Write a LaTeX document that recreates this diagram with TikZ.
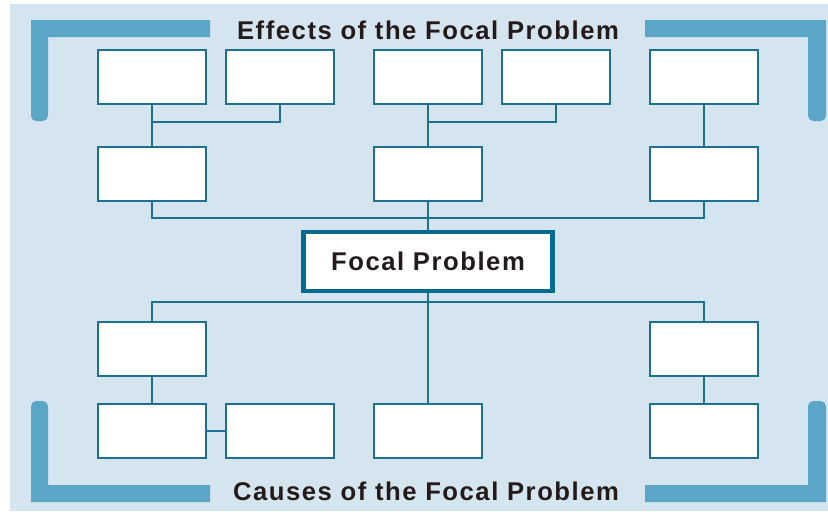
\documentclass[tikz,border=0pt]{standalone}
\usepackage{fontspec}
\newfontfamily\headfont[LetterSpace=6]{Liberation Sans}
\usetikzlibrary{positioning}
\definecolor{bgblue}{HTML}{D5E5F0}
\definecolor{barblue}{HTML}{5BA5C6}
\definecolor{lineblue}{HTML}{1F6F90}
\definecolor{focalblue}{HTML}{006B8F}
\definecolor{inkdark}{HTML}{231A1A}
\tikzset{
  cell/.style={draw=lineblue,fill=white,line width=0.85pt,minimum width=2.16cm,minimum height=1.08cm,inner sep=0pt},
  link/.style={draw=lineblue,line width=0.85pt},
  heading/.style={text=inkdark,font=\headfont\bfseries\fontsize{14.6}{17}\selectfont},
  bar/.style={fill=barblue}
}

\begin{document}
\begin{tikzpicture}[x=0.02cm,y=-0.02cm]
		\useasboundingbox (0,0) rectangle (828,511);
		\fill[bgblue] (10,4) rectangle (828,511);
		% corner brackets
		\fill[bar,rounded corners=3pt] (48,112) -- (48,121) -- (31,121) -- (31,100) [sharp corners] -- (31,20) -- (210,20) -- (210,37) -- (48,37) -- cycle;
		\fill[bar,rounded corners=3pt] (808,112) -- (808,121) -- (826,121) -- (826,100) [sharp corners] -- (826,20) -- (645,20) -- (645,37) -- (808,37) -- cycle;
		\fill[bar,rounded corners=3pt] (48,410) -- (48,401) -- (31,401) -- (31,420) [sharp corners] -- (31,502) -- (210,502) -- (210,485) -- (48,485) -- cycle;
		\fill[bar,rounded corners=3pt] (808,410) -- (808,401) -- (826,401) -- (826,420) [sharp corners] -- (826,502) -- (645,502) -- (645,485) -- (808,485) -- cycle;
		\node[heading] (effects) at (428,30) {Effects of the Focal Problem};
		\node[heading] (causes) at (426,491) {Causes of the Focal Problem};
		% boxes
		\node[cell] (e1) at (152,77) {};
		\node[cell] (e2) at (280,77) {};
		\node[cell] (e3) at (428,77) {};
		\node[cell] (e4) at (556,77) {};
		\node[cell] (e5) at (704,77) {};
		\node[cell] (m1) at (152,174) {};
		\node[cell] (m2) at (428,174) {};
		\node[cell] (m3) at (704,174) {};
		\node[draw=focalblue,fill=white,line width=2.8pt,minimum width=4.98cm,minimum height=1.18cm,inner sep=0pt,heading] (focal) at (428,261.5) {Focal Problem};
		\node[cell] (c1) at (152,349) {};
		\node[cell] (c2) at (704,349) {};
		\node[cell] (d1) at (152,431) {};
		\node[cell] (d2) at (280,431) {};
		\node[cell] (d3) at (428,431) {};
		\node[cell] (d4) at (704,431) {};
		% junctions
		\coordinate (jt1) at (152,122);
		\coordinate (jt2) at (428,122);
		\coordinate (tb) at (428,218);
		\coordinate (bb) at (428,302);
		% effects
		\draw[link] (e1.south) -- (m1.north);
		\draw[link] (e2.south) |- (jt1);
		\draw[link] (e3.south) -- (m2.north);
		\draw[link] (e4.south) |- (jt2);
		\draw[link] (e5.south) -- (m3.north);
		\draw[link] (m1.south) |- (tb) -| (m3.south);
		\draw[link] (m2.south) -- (focal.north);
		% causes
		\draw[link] (c1.north) |- (bb) -| (c2.north);
		\draw[link] (focal.south) -- (d3.north);
		\draw[link] (c1.south) -- (d1.north);
		\draw[link] (d1.east) -- (d2.west);
		\draw[link] (c2.south) -- (d4.north);
\end{tikzpicture}
\end{document}
